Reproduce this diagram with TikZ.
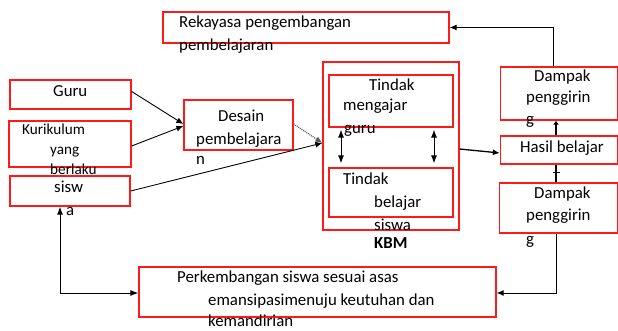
\documentclass[tikz,border=0pt]{standalone}
\usepackage{fontspec}
\setmainfont{Carlito}
\definecolor{boxRed}{HTML}{FF1A1A}
\usetikzlibrary{arrows.meta,calc}

\begin{document}
\begin{tikzpicture}[
			x=1pt, y=-1pt,
			box/.style={rectangle, draw=boxRed, line width=1.3pt, inner sep=0pt},
			txt/.style={anchor=mid west, inner sep=0pt, font=\fontsize{16.8}{20}\selectfont},
			small/.style={txt, font=\fontsize{15.2}{18}\selectfont},
			arrow/.style={-{Latex[length=7pt,width=6pt]}, line width=0.9pt},
			both/.style={{Latex[length=8pt,width=6pt]}-{Latex[length=8pt,width=6pt]}, line width=0.9pt}
			]
			\useasboundingbox (0,0) rectangle (618,331);
			% boxes
			\node[box, minimum width=286pt, minimum height=31pt] (rekayasa) at (306,27.5) {};
			\node[box, minimum width=121pt, minimum height=29pt] (guru) at (70.5,94.5) {};
			\node[box, minimum width=122pt, minimum height=46pt] (kurikulum) at (70,144) {};
			\node[box, minimum width=120pt, minimum height=30pt] (siswa) at (70,191) {};
			\node[box, minimum width=109pt, minimum height=50pt] (desain) at (238.5,125) {};
			\node[box, minimum width=136pt, minimum height=168pt] (kbm) at (391,146) {};
			\node[box, minimum width=124pt, minimum height=52pt] (mengajar) at (391,101) {};
			\node[box, minimum width=124pt, minimum height=49pt] (belajar) at (391,192.5) {};
			\node[box, minimum width=117pt, minimum height=53pt] (dampakA) at (559,93.5) {};
			\node[box, minimum width=117pt, minimum height=28pt] (hasil) at (559,150) {};
			\node[box, minimum width=118pt, minimum height=50pt] (dampakB) at (558.5,208) {};
			\node[box, minimum width=357pt, minimum height=50pt] (perkembangan) at (317.5,292) {};

			% texts
			\node[txt] (rek1) at (179,25) {Rekayasa pengembangan};
			\node[txt] (rek2) at (179,48) {pembelajaran};
			\node[txt] (gurutxt) at (53,94) {Guru};
			\node[small] (kur1) at (22,132) {Kurikulum};
			\node[small] (kur2) at (50,152) {yang};
			\node[small] (kur3) at (50,172) {berlaku};
			\node[txt] (sis1) at (54,190) {sisw};
			\node[txt] (sis2) at (66,213) {a};
			\node[txt] (des1) at (218,119) {Desain};
			\node[txt] (des2) at (196,142) {pembelajara};
			\node[txt] (des3) at (196,162) {n};
			\node[txt] (ajar1) at (369,88) {Tindak};
			\node[txt] (ajar2) at (343,108) {mengajar};
			\node[txt] (ajar3) at (344,131) {guru};
			\node[txt] (bel1) at (343,182) {Tindak};
			\node[txt] (bel2) at (374,205) {belajar};
			\node[txt] (bel3) at (374,228) {siswa};
			\node[txt, font=\fontsize{16.8}{20}\selectfont\bfseries] (kbmtxt) at (374,246) {KBM};
			\node[txt] (dpa1) at (534,79) {Dampak};
			\node[txt] (dpa2) at (526,100) {penggirin};
			\node[txt] (dpa3) at (526,122) {g};
			\node[txt] (hasiltxt) at (520,150) {Hasil belajar};
			\node[txt] (dpb1) at (534,196) {Dampak};
			\node[txt] (dpb2) at (526,218) {penggirin};
			\node[txt] (dpb3) at (526,242) {g};
			\node[txt] (per1) at (177,280) {Perkembangan siswa sesuai asas};
			\node[txt] (per2) at (208,303) {emansipasimenuju keutuhan dan};
			\node[txt] (per3) at (208,324) {kemandirian};

			% connectors
			\draw[arrow] ([yshift=3pt]guru.east) -- ([yshift=1pt]desain.west);
			\draw[arrow] ([yshift=-2pt]kurikulum.east) -- ([yshift=-1pt]desain.west);
			\draw[arrow] (siswa.east) -- ([yshift=3pt]kbm.west);
			\draw[arrow, black!65, densely dotted, line width=1.3pt] ([yshift=1pt]desain.east) -- ([yshift=3pt]kbm.west);
			\draw[both, shorten <=2pt, shorten >=4pt] ([xshift=-50pt]mengajar.south) -- ([xshift=-50pt]belajar.north);
			\draw[both, shorten <=2pt, shorten >=4pt] ([xshift=43pt]mengajar.south) -- ([xshift=43pt]belajar.north);
			\draw[arrow, line width=1.3pt] ([yshift=-3pt]kbm.east) -- ([yshift=-3pt]hasil.west);
			\draw[-{Latex[length=4pt,width=6pt]}, line width=1.3pt] ([xshift=-3pt]hasil.north) -- ([xshift=-3pt]dampakA.south);
			\draw[line width=1.3pt] ([xshift=-3pt]hasil.south) -- ([xshift=-2.5pt]dampakB.north);
			\draw[line width=1.3pt] ($([xshift=-3pt]hasil.south)!0.45!([xshift=-2.5pt]dampakB.north)$) ++(-3.5,0) -- ++(7,0);
			\draw[arrow] ([xshift=-6pt]dampakA.north) |- (rekayasa.east);
			\draw[arrow] ([xshift=-2.5pt]dampakB.south) |- ([yshift=-1pt]perkembangan.east);
			\draw[both] ([xshift=-10pt]siswa.south) |- ([yshift=-1pt]perkembangan.west);
		\end{tikzpicture}
\end{document}
